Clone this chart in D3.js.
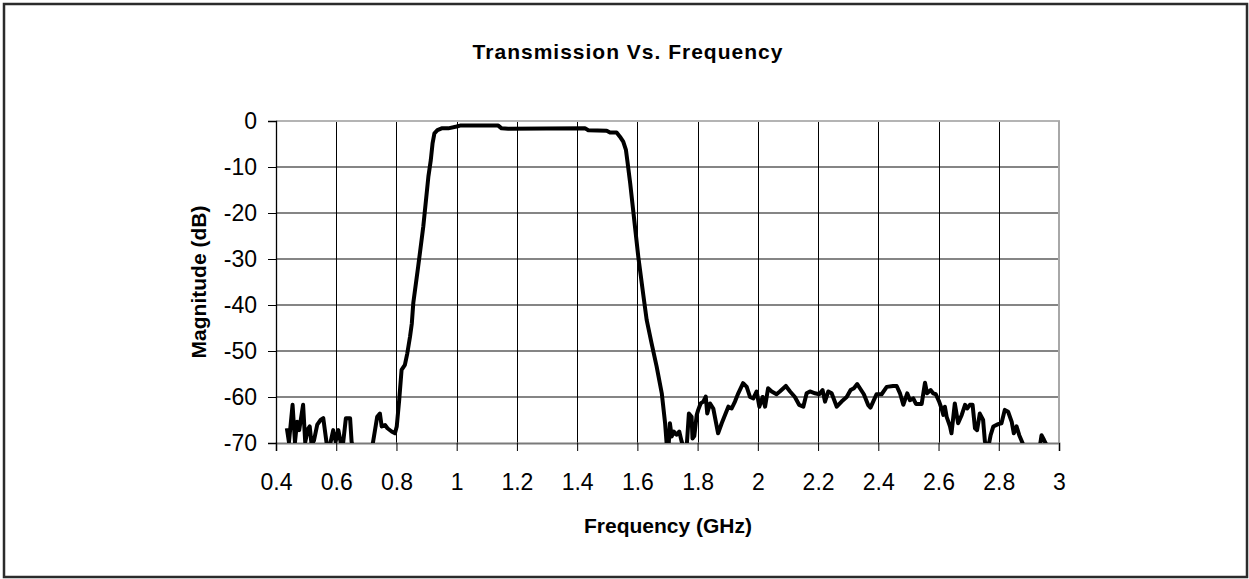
<!DOCTYPE html>
<html>
  <head>
    <meta charset="utf-8">
    <script src="https://d3js.org/d3.v7.min.js"></script>
    <style>
      body { margin: 0; background: #fff; }
      text { font-family: Arial, "Liberation Sans", sans-serif; fill: #000; }
    </style>
  </head>
  <body>
    <svg id="chart" width="1249" height="579"></svg>

    <script>
      // data (GHz, dB); values below -70 are cut off by the axis
      var freqGHz = [
        0.436, 0.443, 0.455, 0.463, 0.470, 0.477, 0.490, 0.497, 0.506, 0.512,
        0.518, 0.526, 0.537, 0.548, 0.557, 0.568, 0.579, 0.590, 0.598, 0.607,
        0.616, 0.622, 0.632, 0.646, 0.651, 0.659, 0.680, 0.700, 0.721, 0.736,
        0.745, 0.751, 0.762, 0.770, 0.784, 0.795, 0.801, 0.809, 0.817, 0.828,
        0.836, 0.845, 0.851, 0.856, 0.872, 0.889, 0.906, 0.914, 0.920, 0.926,
        0.936, 0.950, 0.972, 1.000, 1.011, 1.138, 1.149, 1.171, 1.426, 1.437,
        1.498, 1.509, 1.531, 1.542, 1.553, 1.562, 1.567, 1.576, 1.587, 1.603,
        1.620, 1.631, 1.647, 1.664, 1.681, 1.692, 1.697, 1.703, 1.708, 1.714,
        1.721, 1.730, 1.739, 1.747, 1.755, 1.764, 1.771, 1.780, 1.783, 1.789,
        1.797, 1.802, 1.810, 1.819, 1.827, 1.832, 1.841, 1.852, 1.868, 1.880,
        1.891, 1.902, 1.913, 1.924, 1.935, 1.951, 1.963, 1.974, 1.985, 1.996,
        2.005, 2.016, 2.024, 2.034, 2.046, 2.062, 2.073, 2.093, 2.107, 2.123,
        2.137, 2.151, 2.162, 2.173, 2.190, 2.204, 2.215, 2.223, 2.234, 2.245,
        2.262, 2.278, 2.295, 2.308, 2.319, 2.330, 2.339, 2.352, 2.366, 2.374,
        2.383, 2.394, 2.411, 2.428, 2.449, 2.461, 2.472, 2.483, 2.496, 2.505,
        2.516, 2.525, 2.544, 2.555, 2.562, 2.574, 2.582, 2.591, 2.602, 2.610,
        2.616, 2.621, 2.627, 2.638, 2.643, 2.654, 2.665, 2.677, 2.688, 2.695,
        2.704, 2.713, 2.721, 2.728, 2.737, 2.748, 2.754, 2.765, 2.773, 2.782,
        2.798, 2.809, 2.820, 2.831, 2.843, 2.850, 2.859, 2.868, 2.879, 2.893,
        2.920, 2.937, 2.942, 2.950, 2.959, 2.976, 3.000
      ];
      var magnitudeDB = [
        -66.8, -69.8, -61.7, -69.8, -65.4, -67.2, -61.7, -69.8, -67.0, -66.4,
        -70.3, -69.5, -66.0, -65.0, -64.6, -70.0, -70.5, -67.2, -69.7, -67.2,
        -70.3, -70.5, -64.6, -64.6, -69.7, -72.0, -74.0, -73.0, -70.3, -64.3,
        -63.6, -66.4, -66.1, -66.8, -67.5, -67.9, -66.4, -60.7, -54.1, -53.0,
        -50.5, -46.9, -44.0, -39.5, -31.7, -23.0, -12.1, -8.5, -4.8, -2.7,
        -2.0, -1.6, -1.6, -1.2, -1.0, -1.0, -1.6, -1.7, -1.6, -2.0,
        -2.1, -2.5, -2.5, -3.4, -4.5, -6.3, -8.8, -13.5, -20.0, -29.5,
        -38.0, -43.3, -48.3, -53.4, -59.2, -65.7, -70.0, -71.5, -65.7, -68.6,
        -67.5, -68.2, -67.5, -69.7, -71.0, -70.5, -63.6, -64.3, -69.0, -68.5,
        -63.9, -62.8, -61.4, -61.0, -59.9, -63.6, -61.4, -62.5, -67.9, -65.7,
        -63.9, -62.1, -62.5, -61.0, -59.2, -57.0, -57.8, -60.0, -60.3, -58.8,
        -62.1, -60.0, -62.1, -58.1, -58.8, -59.4, -58.8, -57.6, -58.8, -60.0,
        -61.7, -62.1, -59.2, -58.8, -59.2, -59.4, -58.5, -61.0, -58.8, -59.2,
        -62.1, -61.0, -60.0, -58.5, -58.1, -57.2, -58.1, -59.4, -61.7, -62.3,
        -61.0, -59.4, -59.4, -57.8, -57.6, -57.6, -59.2, -61.7, -59.2, -60.7,
        -60.3, -61.5, -61.5, -56.9, -59.2, -58.5, -59.2, -59.4, -61.0, -62.5,
        -63.9, -62.1, -64.3, -66.4, -67.9, -61.4, -65.7, -63.9, -61.7, -62.5,
        -61.7, -61.7, -66.8, -67.2, -63.6, -65.0, -69.7, -71.0, -68.3, -66.4,
        -65.9, -65.7, -62.8, -63.2, -65.4, -67.9, -66.4, -68.3, -70.0, -73.0,
        -74.0, -70.5, -68.3, -69.3, -70.5, -74.0, -75.0
      ];
      var xTicks = [0.4, 0.6, 0.8, 1, 1.2, 1.4, 1.6, 1.8, 2, 2.2, 2.4, 2.6, 2.8, 3];
      var yTicks = [0, -10, -20, -30, -40, -50, -60, -70];

      var svg = d3.select("#chart");
      var plotLeft = 276, plotRight = 1059, plotTop = 121, plotBottom = 443;

      var x = d3.scaleLinear().domain([0.4, 3]).range([plotLeft, plotRight]);
      var y = d3.scaleLinear().domain([-70, 0]).range([plotBottom, plotTop]);

      // outer frame
      svg.append("rect")
        .attr("x", 4).attr("y", 4)
        .attr("width", 1243).attr("height", 573)
        .attr("fill", "none")
        .attr("stroke", "#2b2b2b")
        .attr("stroke-width", 2.5);

      svg.append("text")
        .attr("x", 628).attr("y", 59)
        .attr("text-anchor", "middle")
        .style("font-size", "21px")
        .style("font-weight", "bold")
        .style("letter-spacing", "1px")
        .text("Transmission Vs. Frequency");

      // horizontal grid (gray)
      svg.append("g")
        .selectAll("line")
        .data(yTicks.filter(function(d) { return d > -70 && d < 0; }))
        .enter().append("line")
        .attr("x1", plotLeft).attr("x2", plotRight)
        .attr("y1", function(d) { return Math.round(y(d)); })
        .attr("y2", function(d) { return Math.round(y(d)); })
        .attr("stroke", "#858585")
        .attr("stroke-width", 2);

      // vertical grid (black)
      svg.append("g")
        .selectAll("line")
        .data(xTicks.slice(1, -1))
        .enter().append("line")
        .attr("x1", function(d) { return Math.round(x(d)) + 0.5; })
        .attr("x2", function(d) { return Math.round(x(d)) + 0.5; })
        .attr("y1", plotTop).attr("y2", plotBottom)
        .attr("stroke", "#000")
        .attr("stroke-width", 1);

      // plot border: top and right light gray
      svg.append("line")
        .attr("x1", plotLeft).attr("x2", plotRight + 1)
        .attr("y1", plotTop).attr("y2", plotTop)
        .attr("stroke", "#b4b4b4").attr("stroke-width", 2);
      svg.append("line")
        .attr("x1", plotRight).attr("x2", plotRight)
        .attr("y1", plotTop).attr("y2", plotBottom)
        .attr("stroke", "#a8a8a8").attr("stroke-width", 2);

      // x axis
      var xAxis = svg.append("g")
        .attr("transform", "translate(0," + plotBottom + ")")
        .call(d3.axisBottom(x).tickValues(xTicks).tickSize(8).tickPadding(23)
          .tickFormat(function(d) { return String(d); }));
      xAxis.select(".domain").attr("stroke", "#7a7a7a").attr("stroke-width", 2);
      xAxis.selectAll(".tick line").attr("stroke", "#000");
      xAxis.selectAll("text")
        .attr("fill", "#000")
        .style("font-size", "23px")
        .style("font-family", "Arial, 'Liberation Sans', sans-serif");

      // y axis (plain hyphen for the minus sign, as in the original)
      var yAxis = svg.append("g")
        .attr("transform", "translate(" + plotLeft + ",0)")
        .call(d3.axisLeft(y).tickValues(yTicks).tickSize(8).tickPadding(11)
          .tickFormat(function(d) { return String(d); }));
      yAxis.select(".domain").attr("stroke", "#000").attr("stroke-width", 1.3);
      yAxis.selectAll(".tick line").attr("stroke", "#000");
      yAxis.selectAll("text")
        .attr("fill", "#000")
        .style("font-size", "23px")
        .style("font-family", "Arial, 'Liberation Sans', sans-serif");

      svg.append("text")
        .attr("x", 668).attr("y", 533)
        .attr("text-anchor", "middle")
        .style("font-size", "21px")
        .style("font-weight", "bold")
        .text("Frequency (GHz)");

      svg.append("text")
        .attr("transform", "translate(206,282) rotate(-90)")
        .attr("text-anchor", "middle")
        .style("font-size", "21px")
        .style("font-weight", "bold")
        .text("Magnitude (dB)");

      // the curve, clipped to the plot area
      svg.append("clipPath")
        .attr("id", "plotClip")
        .append("rect")
        .attr("x", plotLeft).attr("y", plotTop - 4)
        .attr("width", plotRight - plotLeft).attr("height", plotBottom - plotTop + 4);

      var line = d3.line()
        .x(function(d, i) { return x(freqGHz[i]); })
        .y(function(d) { return y(d); });

      svg.append("path")
        .datum(magnitudeDB)
        .attr("clip-path", "url(#plotClip)")
        .attr("d", line)
        .attr("fill", "none")
        .attr("stroke", "#000")
        .attr("stroke-width", 4)
        .attr("stroke-linejoin", "round");
    </script>
  </body>
</html>
